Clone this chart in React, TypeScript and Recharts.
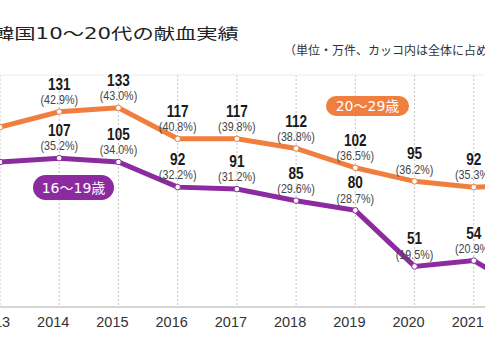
import React from 'react';
import { LineChart, Line, XAxis, YAxis, CartesianGrid, LabelList, ReferenceLine } from 'recharts';

// 2013 と 2022 は画面外で一部のみ見える（ラベルなし）
const years = ['2013', '2014', '2015', '2016', '2017', '2018', '2019', '2020', '2021', '2022'];
const age20s = [123, 131, 133, 117, 117, 112, 102, 95, 92, 93];
const age16to19 = [105, 107, 105, 92, 91, 85, 80, 51, 54, 36];
const pct20s = [null, '42.9', '43.0', '40.8', '39.8', '38.8', '36.5', '36.2', '35.3', null];
const pct16to19 = [null, '35.2', '34.0', '32.2', '31.2', '29.6', '28.7', '19.5', '20.9', null];

const data = years.map((y, i) => ({ year: y, a: age20s[i], b: age16to19[i] }));

const ORANGE = '#F07E3E';
const PURPLE = '#8B2B9F';
const NUM_FONT = '"Liberation Sans", Arial, sans-serif';
const JP_FONT = '"DejaVu Sans", "Noto Sans CJK JP", sans-serif';

const makeLabel = (pcts: (string | null)[]) => (props: any) => {
  const { x, y, value, index } = props;
  if (pcts[index] == null) return null;
  return (
    <g transform={`translate(${x},${y})`}>
      <text transform="scale(0.8,1)" x={0} y={-28} textAnchor="middle" dominantBaseline="central"
        fontFamily={NUM_FONT} fontWeight="bold" fontSize={17} fill="#1a1a1a">
        {value}
      </text>
      <text transform="scale(0.86,1)" x={0} y={-12.5} textAnchor="middle" dominantBaseline="central"
        fontFamily={NUM_FONT} fontSize={12.5} fill="#444">
        ({pcts[index]}%)
      </text>
    </g>
  );
};

const YearTick = (props: any) => {
  const { x, payload } = props;
  return (
    <text x={x - 6} y={322} textAnchor="middle" dominantBaseline="central"
      fontFamily={NUM_FONT} fontSize={14.5} fill="#333">
      {payload.value}
    </text>
  );
};

const pill = (bg: string, left: number, top: number, w: number, h: number, text: string) => (
  <div style={{
    position: 'absolute', left, top, width: w, height: h, borderRadius: h / 2,
    background: bg, color: '#fff', fontFamily: JP_FONT, fontSize: 14,
    display: 'flex', alignItems: 'center', justifyContent: 'center', lineHeight: 1,
  }}>{text}</div>
);

export default function App() {
  return (
    <div style={{ position: 'fixed', left: 0, top: 0, width: 485, height: 360, overflow: 'hidden', background: '#fff' }}>
      <div style={{
        position: 'absolute', left: -7, top: 22, fontFamily: JP_FONT, fontSize: 15,
        color: '#222', whiteSpace: 'nowrap', transform: 'scale(1.42, 1)', transformOrigin: 'left top',
      }}>
        韓国10～20代の献血実績
      </div>
      <div style={{
        position: 'absolute', left: 284, top: 41, fontFamily: '"Noto Sans CJK JP", sans-serif',
        fontSize: 12, color: '#333', whiteSpace: 'nowrap',
      }}>
        （単位・万件、カッコ内は全体に占める割合）
      </div>

      <div style={{ position: 'absolute', left: -10, top: 0 }}>
        <LineChart width={560} height={360} data={data} margin={{ top: 75, right: 17, bottom: 0, left: 10 }}>
          <CartesianGrid vertical strokeDasharray="2 2" stroke="#c4c4c4" horizontal={false} />
          <ReferenceLine y={150} stroke="#ececec" />
          <XAxis dataKey="year" height={53} tickLine={false} axisLine={{ stroke: '#c8c8c8', strokeWidth: 1.5 }}
            tick={<YearTick />} interval={0} />
          <YAxis hide domain={[30, 150]} type="number" />
          <Line type="linear" dataKey="a" stroke={ORANGE} strokeWidth={5} isAnimationActive={false}
            dot={{ r: 2.8, fill: '#fff', stroke: ORANGE, strokeWidth: 1 }}>
            <LabelList dataKey="a" content={makeLabel(pct20s)} />
          </Line>
          <Line type="linear" dataKey="b" stroke={PURPLE} strokeWidth={5} isAnimationActive={false}
            dot={{ r: 2.8, fill: '#fff', stroke: PURPLE, strokeWidth: 1 }}>
            <LabelList dataKey="b" content={makeLabel(pct16to19)} />
          </Line>
        </LineChart>
      </div>

      {pill(ORANGE, 326, 96, 83, 20, '20～29歳')}
      {pill(PURPLE, 33, 175, 81, 25, '16～19歳')}
    </div>
  );
}
